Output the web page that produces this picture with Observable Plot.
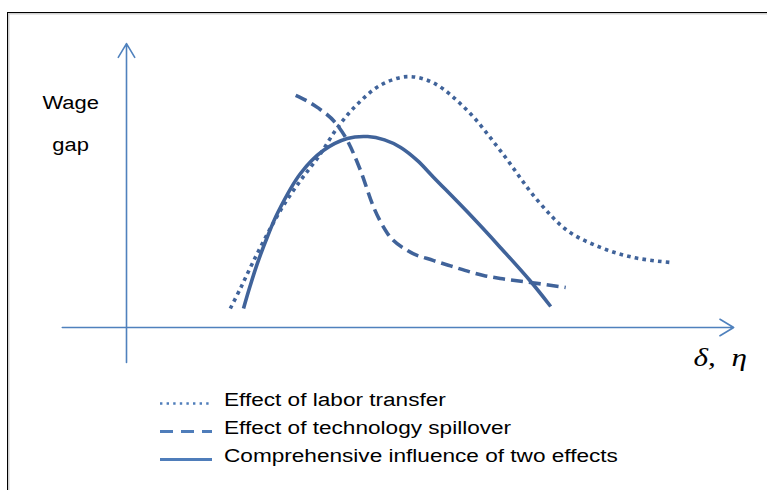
<!DOCTYPE html>
<html>
<head>
<meta charset="utf-8">
<script src="https://cdn.jsdelivr.net/npm/d3@7"></script>
<script src="https://cdn.jsdelivr.net/npm/@observablehq/plot@0.6"></script>
<style>
  html, body { margin: 0; padding: 0; background: #fff; }
  #wrap { position: relative; width: 767px; height: 490px; overflow: hidden; background: #fff; }
  #frame { position: absolute; left: 7px; top: 12px; width: 800px; height: 520px;
           border-top: 1.5px solid #000; border-left: 1.5px solid #000;
           box-shadow: inset 1.5px 1.5px 0 #d0d0d0; }
  #chart { position: absolute; left: 0; top: 0; }
  .row { position: absolute; left: 160px; height: 28px; width: 600px;
         font-family: "Liberation Sans", Arial, sans-serif; font-size: 18px; line-height: 28px; color: #000; }
  .row svg { position: absolute; left: 0; top: 0; }
  .row span { position: absolute; left: 64px; top: 0; white-space: nowrap;
              display: inline-block; transform: scaleX(1.255); transform-origin: 0 0; }
</style>
</head>
<body>
<div id="wrap">
  <div id="frame"></div>
  <div id="chart"></div>
  <div id="legend"></div>
</div>
<script>
// ---- Data (x: δ, η axis units 0–100; y: wage gap units 0–100) ----
const laborX = [17.3, 19.0, 21.0, 23.5, 26.0, 29.0, 32.0, 35.2, 38.5, 42.3, 46.8, 51.2, 56.8, 62.3, 68.5, 73.5, 79.0, 84.5, 90.7];
const laborY = [6.8, 14.0, 23.0, 33.5, 43.0, 52.5, 61.0, 71.5, 79.8, 86.5, 89.6, 87.3, 77.5, 63.2, 45.4, 34.6, 28.6, 25.0, 23.2];

const spillX = [28.2, 31.8, 35.2, 36.8, 39.0, 41.2, 43.5, 46.8, 51.2, 54.0, 59.5, 62.3, 67.3, 73.2];
const spillY = [82.9, 78.6, 72.1, 66.8, 56.1, 42.9, 33.6, 27.5, 23.9, 22.0, 18.6, 17.5, 16.1, 14.3];

const combX = [19.5, 20.6, 21.8, 23.5, 25.2, 29.0, 32.8, 36.8, 40.2, 43.0, 45.7, 48.5, 51.2, 56.8, 62.3, 67.3, 70.7];
const combY = [6.8, 14.8, 22.8, 32.5, 41.0, 55.0, 63.2, 67.5, 68.2, 67.0, 64.3, 59.6, 53.6, 41.3, 28.6, 16.6, 7.5];

const seriesNames = ["Effect of labor transfer", "Effect of technology spillover", "Comprehensive influence of two effects"];
const axisLabelY = ["Wage", "gap"];
const axisLabelX = "δ,\u00a0\u00a0η";

// axis extents (data units)
const xAxisRange = [-10.7, 101.2];
const yAxisRange = [-12.5, 101.4];

const toPts = (xs, ys) => xs.map((x, i) => ({x, y: ys[i]}));
const labor = toPts(laborX, laborY);
const spill = toPts(spillX, spillY);
const comb = toPts(combX, combY);

const curveColor = "#40639a";
const axisColor = "#4f81bd";
const legendColor = "#4f7dba";

const axes = [
  {x1: xAxisRange[0], y1: 0, x2: xAxisRange[1], y2: 0},
  {x1: 0, y1: yAxisRange[0], x2: 0, y2: yAxisRange[1]}
];

const plot = Plot.plot({
  width: 767,
  height: 380,
  marginLeft: 126,
  marginRight: 41,
  marginTop: 47,
  marginBottom: 53,
  x: {domain: [0, 100], axis: null},
  y: {domain: [0, 100], axis: null},
  style: {background: "transparent", overflow: "visible"},
  marks: [
    Plot.arrow(axes, {x1: "x1", y1: "y1", x2: "x2", y2: "y2", stroke: axisColor, strokeWidth: 1.6, headLength: 15, headAngle: 62}),
    Plot.line(labor, {x: "x", y: "y", curve: "catmull-rom", stroke: curveColor, strokeWidth: 3.6, strokeDasharray: "3.6,4.2", strokeLinecap: "butt"}),
    Plot.line(spill, {x: "x", y: "y", curve: "monotone-x", stroke: curveColor, strokeWidth: 3.6, strokeDasharray: "12,6", strokeLinecap: "butt"}),
    Plot.line(comb, {x: "x", y: "y", curve: "catmull-rom", stroke: curveColor, strokeWidth: 3.6, strokeLinecap: "butt"}),
    Plot.text(axisLabelY, {x: [-9.3, -9.3], y: [77.9, 63.2], text: d => d, textAnchor: "middle", lineAnchor: "bottom",
      fontFamily: "Liberation Sans, Arial, sans-serif", fontSize: 18, fill: "#000"}),
    Plot.text([axisLabelX], {x: [94.5], y: [-13.9], text: d => d, textAnchor: "start", lineAnchor: "bottom",
      fontFamily: "Liberation Serif, Times New Roman, serif", fontStyle: "italic", fontSize: 26, fill: "#000",
      className: "greek"})
  ]
});
document.getElementById("chart").appendChild(plot);

// horizontal stretch of the reference's text
d3.select(plot).selectAll("text").each(function() {
  const len = this.getComputedTextLength();
  const f = this.closest(".greek") ? 1.2 : 1.22;
  this.setAttribute("textLength", len * f);
  this.setAttribute("lengthAdjust", "spacingAndGlyphs");
});

// ---- Legend (HTML below the plot) ----
const legendDash = ["2.4,4.2", "13,8", null];
const legendWidth = [2.6, 3, 3];
const legendTop = [386, 414, 442];
const legend = d3.select("#legend");
seriesNames.forEach((name, i) => {
  const row = legend.append("div").attr("class", "row").style("top", legendTop[i] + "px");
  const s = row.append("svg").attr("width", 56).attr("height", 28);
  const ln = s.append("line").attr("x1", 0).attr("x2", 52).attr("y1", 17.5).attr("y2", 17.5)
    .attr("stroke", legendColor).attr("stroke-width", legendWidth[i]);
  if (legendDash[i]) ln.attr("stroke-dasharray", legendDash[i]);
  row.append("span").text(name);
});
</script>
</body>
</html>
